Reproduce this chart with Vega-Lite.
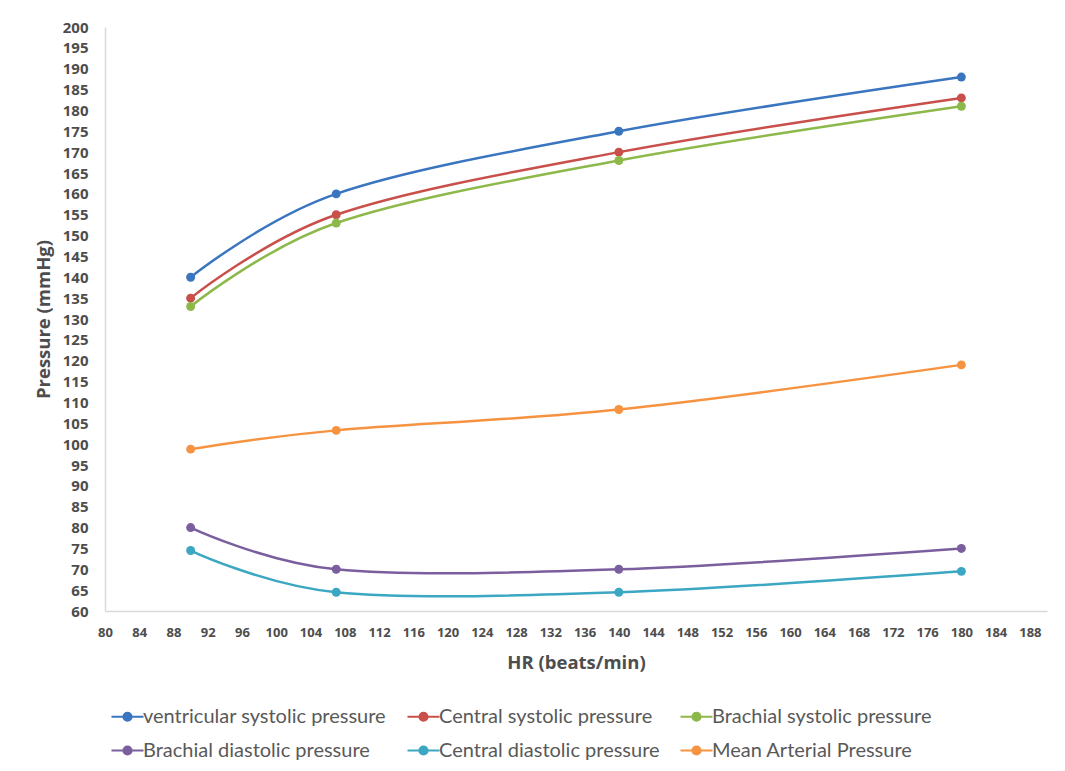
{
  "$schema": "https://vega.github.io/schema/vega-lite/v6.json",
  "autosize": {"type": "none"},
  "padding": {"left": 105, "top": 27, "right": 18, "bottom": 160},
  "width": 942,
  "height": 584,
  "background": "white",
  "config": {
    "font": "Open Sans",
    "view": {"stroke": null},
    "axis": {"grid": false, "domainColor": "#d9d9d9", "domainWidth": 1.5, "ticks": false, "labelColor": "#4d4d4d", "titleColor": "#4d4d4d", "labelFont": "Open Sans", "titleFont": "Open Sans"}
  },
  "data": {
    "values": [
      {"HR": 90, "series": "ventricular systolic pressure", "value": 140},
      {"HR": 107, "series": "ventricular systolic pressure", "value": 160},
      {"HR": 140, "series": "ventricular systolic pressure", "value": 175},
      {"HR": 180, "series": "ventricular systolic pressure", "value": 188},
      {"HR": 90, "series": "Central systolic pressure", "value": 135},
      {"HR": 107, "series": "Central systolic pressure", "value": 155},
      {"HR": 140, "series": "Central systolic pressure", "value": 170},
      {"HR": 180, "series": "Central systolic pressure", "value": 183},
      {"HR": 90, "series": "Brachial systolic pressure", "value": 133},
      {"HR": 107, "series": "Brachial systolic pressure", "value": 153},
      {"HR": 140, "series": "Brachial systolic pressure", "value": 168},
      {"HR": 180, "series": "Brachial systolic pressure", "value": 181},
      {"HR": 90, "series": "Brachial diastolic pressure", "value": 80},
      {"HR": 107, "series": "Brachial diastolic pressure", "value": 70},
      {"HR": 140, "series": "Brachial diastolic pressure", "value": 70},
      {"HR": 180, "series": "Brachial diastolic pressure", "value": 75},
      {"HR": 90, "series": "Central diastolic pressure", "value": 74.5},
      {"HR": 107, "series": "Central diastolic pressure", "value": 64.5},
      {"HR": 140, "series": "Central diastolic pressure", "value": 64.5},
      {"HR": 180, "series": "Central diastolic pressure", "value": 69.5},
      {"HR": 90, "series": "Mean Arterial Pressure", "value": 98.8},
      {"HR": 107, "series": "Mean Arterial Pressure", "value": 103.3},
      {"HR": 140, "series": "Mean Arterial Pressure", "value": 108.3},
      {"HR": 180, "series": "Mean Arterial Pressure", "value": 119}
    ]
  },
  "encoding": {
    "x": {
      "field": "HR", "type": "quantitative",
      "scale": {"domain": [80, 190], "nice": false, "zero": false},
      "axis": {"title": "HR (beats/min)", "values": [80,84,88,92,96,100,104,108,112,116,120,124,128,132,136,140,144,148,152,156,160,164,168,172,176,180,184,188], "labelFontSize": 13, "labelFontWeight": "bold", "labelPadding": 15, "titleFontSize": 18.5, "titleFontWeight": "bold", "titlePadding": 14, "labelFlush": false}
    },
    "y": {
      "field": "value", "type": "quantitative",
      "scale": {"domain": [60, 200], "nice": false, "zero": false},
      "axis": {"title": "Pressure (mmHg)", "values": [60,65,70,75,80,85,90,95,100,105,110,115,120,125,130,135,140,145,150,155,160,165,170,175,180,185,190,195,200], "labelFontSize": 15, "labelFontWeight": "bold", "labelPadding": 17, "titleFontSize": 18.5, "titleFontWeight": "bold", "titlePadding": 9, "labelFlush": false}
    },
    "color": {
      "field": "series", "type": "nominal",
      "scale": {
        "domain": ["ventricular systolic pressure", "Central systolic pressure", "Brachial systolic pressure", "Brachial diastolic pressure", "Central diastolic pressure", "Mean Arterial Pressure"],
        "range": ["#3a75c0", "#c9504a", "#8db84a", "#7a5e9e", "#3ba7c3", "#f59340"]
      },
      "legend": {
        "title": null, "orient": "none", "legendX": 11, "legendY": 678, "direction": "horizontal", "columns": 3,
        "symbolType": "M-1.6,0H1.6M-0.4,0A0.4,0.4 0 1,1 0.4,0A0.4,0.4 0 1,1 -0.4,0Z",
        "symbolSize": 400, "symbolStrokeWidth": 2.2, "labelFontSize": 20, "labelColor": "#595959", "labelFont": "Lato",
        "rowPadding": 12, "columnPadding": 16, "labelOffset": 4, "labelLimit": 400
      }
    }
  },
  "layer": [
    {"mark": {"type": "line", "interpolate": "cardinal", "strokeWidth": 2.5}},
    {"mark": {"type": "point", "filled": true, "size": 80, "opacity": 1}}
  ]
}
